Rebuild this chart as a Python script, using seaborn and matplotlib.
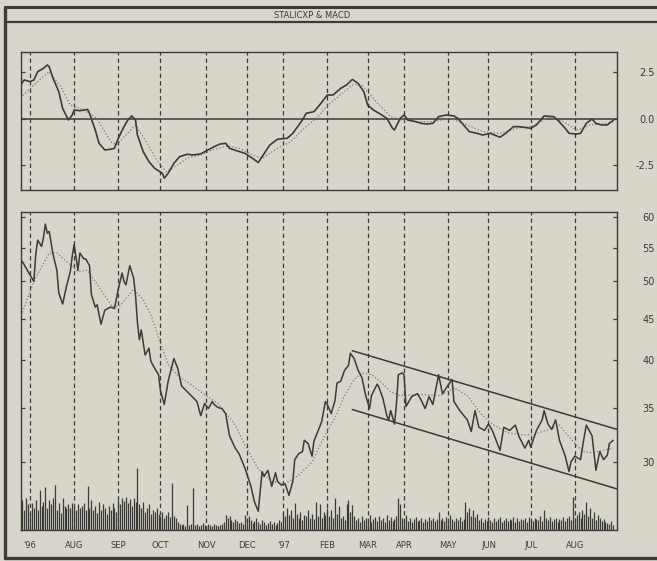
import matplotlib
matplotlib.use("Agg")
import matplotlib.pyplot as plt
from matplotlib.lines import Line2D
from matplotlib.ticker import FixedLocator, FixedFormatter, NullLocator
import seaborn as sns

# x axis = trading-session index (session 0 = Mon 24 Jun 1996)
month_ticks = [5, 28, 51, 73, 97, 118, 137, 160, 181, 200, 223, 244, 266, 289]
month_labels = ["'96", "AUG", "SEP", "OCT", "NOV", "DEC", "'97", "FEB",
                "MAR", "APR", "MAY", "JUN", "JUL", "AUG"]
title = "STALICXP & MACD"

price_session = [1, 4, 7, 8, 9, 11, 12, 13, 14, 15, 17, 19, 20, 22, 24, 26, 27, 28, 30, 31,
                 33, 34, 36, 37, 39, 40, 42, 44, 47, 49, 51, 53, 54, 55, 57, 59, 60, 61, 62, 63,
                 65, 67, 68, 70, 72, 73, 75, 77, 80, 82, 84, 86, 89, 92, 94, 96, 98, 100, 101, 103,
                 105, 107, 109, 112, 114, 117, 120, 122, 124, 125, 126, 127, 129, 131, 133, 134, 136, 138, 140, 142,
                 143, 145, 147, 148, 150, 152, 153, 155, 157, 159, 160, 162, 164, 165, 167, 169, 171, 172, 174, 176,
                 178, 180, 182, 183, 186, 187, 189, 191, 192, 193, 195, 196, 197, 199, 200, 201, 204, 207, 209, 211,
                 213, 215, 218, 220, 222, 225, 226, 229, 233, 235, 237, 239, 242, 244, 246, 250, 252, 255, 258, 260,
                 263, 265, 266, 269, 272, 273, 275, 277, 279, 281, 284, 286, 287, 289, 292, 293, 295, 298, 300, 302,
                 304, 306, 307, 309]
price_close = [52.9, 51.4, 50.0, 54.0, 56.2, 55.2, 56.6, 58.8, 57.3, 57.6, 54.0, 51.6, 48.4, 46.9, 49.3, 51.4, 53.7, 55.5, 51.6, 54.2,
               53.3, 53.3, 52.3, 48.2, 46.5, 46.8, 44.3, 46.1, 46.5, 46.3, 48.9, 51.2, 50.0, 49.5, 52.3, 50.5, 48.1, 44.5, 42.4, 43.6,
               40.6, 41.4, 39.9, 39.1, 38.4, 36.7, 35.3, 37.7, 40.2, 39.1, 37.2, 36.8, 36.2, 35.6, 34.2, 35.4, 34.9, 35.6, 35.3, 35.0,
               34.9, 34.4, 32.3, 31.2, 30.7, 29.5, 28.1, 26.8, 26.1, 27.6, 29.2, 28.8, 29.3, 28.0, 29.1, 28.4, 28.1, 28.2, 27.3, 28.4,
               30.2, 30.7, 30.9, 31.9, 31.6, 30.5, 31.8, 32.7, 33.6, 35.6, 35.3, 34.4, 35.7, 37.5, 37.7, 38.9, 39.4, 40.8, 40.2, 38.9,
               38.1, 36.2, 34.9, 36.2, 37.4, 37.0, 35.9, 34.2, 33.8, 34.7, 33.4, 35.3, 38.4, 38.6, 38.4, 35.1, 36.1, 36.4, 35.7, 34.9,
               36.1, 35.3, 38.4, 36.4, 37.0, 37.9, 35.6, 34.7, 33.8, 32.7, 34.7, 33.1, 32.8, 33.4, 32.8, 31.0, 33.1, 32.8, 33.3, 32.2,
               31.2, 31.9, 31.3, 32.8, 33.8, 34.7, 33.4, 32.9, 33.8, 31.9, 30.5, 29.2, 30.0, 30.5, 30.2, 31.3, 33.3, 32.3, 29.3, 30.9,
               30.2, 30.6, 31.6, 31.9]

ma_session = [1, 7, 15, 19, 30, 35, 41, 48, 52, 59, 64, 68, 73, 77, 83, 88, 96, 103, 109, 112,
              117, 124, 131, 138, 145, 152, 158, 164, 169, 174, 178, 183, 188, 193, 198, 206, 211, 219, 226, 233,
              240, 246, 254, 260, 267, 274, 281, 286, 293, 298, 309]
ma_value = [45.8, 50.0, 54.2, 54.2, 51.4, 51.6, 49.2, 46.5, 46.7, 48.9, 47.5, 45.5, 42.0, 39.5, 38.1, 37.5, 36.3, 35.4, 34.0, 33.3,
            31.5, 29.4, 28.4, 28.2, 28.9, 30.0, 32.1, 34.0, 36.2, 37.9, 38.6, 38.4, 37.6, 36.6, 36.2, 36.3, 36.3, 36.2, 37.0, 36.2,
            34.4, 33.4, 32.6, 32.4, 32.4, 32.8, 33.3, 32.2, 30.9, 30.8, 31.2]

channel_session = [173, 311]
channel_upper = [41.1, 32.9]
channel_lower = [34.8, 27.8]

macd_session = [0, 2, 5, 7, 9, 12, 14, 15, 17, 20, 22, 25, 27, 28, 31, 35, 36, 39, 41, 44,
                47, 49, 51, 54, 56, 58, 60, 61, 64, 67, 70, 74, 75, 77, 80, 83, 87, 90, 94, 97,
                101, 104, 107, 109, 113, 117, 121, 124, 126, 130, 134, 139, 142, 147, 149, 153, 156, 160, 163, 167,
                170, 173, 176, 179, 181, 184, 187, 191, 194, 195, 198, 200, 202, 206, 209, 212, 215, 218, 222, 226,
                228, 231, 234, 238, 241, 245, 247, 250, 253, 257, 260, 266, 269, 273, 278, 280, 284, 286, 290, 292,
                295, 298, 300, 303, 306, 308, 309]
macd_value = [1.82, 2.09, 2.0, 2.09, 2.54, 2.72, 2.9, 2.8, 2.18, 1.46, 0.56, -0.07, 0.2, 0.47, 0.43, 0.5, 0.29, -0.61, -1.33, -1.69,
              -1.65, -1.6, -1.06, -0.43, -0.07, 0.15, -0.07, -0.88, -1.78, -2.32, -2.68, -2.95, -3.21, -2.95, -2.41, -2.05, -1.92, -1.96, -1.9, -1.73,
              -1.51, -1.37, -1.33, -1.6, -1.74, -1.87, -2.14, -2.37, -2.05, -1.42, -1.11, -1.06, -0.79, -0.07, 0.29, 0.38, 0.74, 1.28, 1.28, 1.64,
              1.82, 2.12, 1.91, 1.46, 0.74, 0.47, 0.29, 0.02, -0.52, -0.61, 0.02, 0.2, -0.07, -0.16, -0.25, -0.29, -0.25, 0.11, 0.2, 0.15,
              0.02, -0.34, -0.7, -0.79, -0.88, -0.79, -0.88, -1.0, -0.79, -0.43, -0.43, -0.52, -0.34, 0.15, 0.11, -0.07, -0.52, -0.79, -0.83, -0.79,
              -0.25, -0.02, -0.25, -0.34, -0.34, -0.16, -0.1]

signal_session = [0, 7, 15, 21, 26, 33, 40, 47, 50, 56, 60, 66, 71, 76, 82, 87, 94, 100, 108, 114,
                  121, 126, 134, 141, 146, 156, 160, 173, 178, 186, 193, 199, 207, 215, 224, 233, 241, 250, 259, 267,
                  276, 283, 290, 297, 306, 309]
signal_value = [1.12, 1.82, 2.54, 1.73, 0.74, 0.47, 0.0, -1.24, -1.42, -0.77, -0.34, -1.31, -2.23, -2.86, -2.5, -2.12, -1.96, -1.69, -1.47, -1.6,
                -1.96, -2.14, -1.6, -1.24, -0.7, 0.2, 0.7, 1.82, 1.82, 0.85, 0.11, -0.07, -0.16, -0.16, 0.02, -0.34, -0.7, -0.79, -0.52, -0.39,
                0.11, -0.16, -0.61, -0.34, -0.25, -0.16]

# daily volume (arbitrary units), sessions 0..309
volume = [24, 30, 20, 32, 26, 18, 27, 22, 30, 20, 40, 24, 28, 43, 22, 30, 26, 32, 45, 20,
          27, 17, 32, 24, 22, 26, 22, 27, 24, 20, 26, 22, 24, 27, 20, 44, 22, 30, 20, 24,
          17, 28, 20, 26, 22, 16, 24, 20, 27, 22, 18, 30, 26, 32, 29, 33, 27, 31, 24, 32,
          28, 62, 26, 22, 28, 18, 22, 26, 16, 20, 18, 22, 16, 14, 18, 12, 15, 18, 13, 47,
          14, 12, 8, 6, 5, 6, 4, 25, 5, 6, 42, 5, 6, 4, 5, 7, 5, 4, 6, 5,
          4, 6, 5, 4, 5, 6, 8, 15, 12, 14, 10, 8, 11, 9, 7, 8, 6, 15, 12, 14,
          10, 7, 9, 12, 8, 6, 10, 8, 5, 7, 9, 6, 8, 5, 7, 10, 8, 18, 14, 22,
          15, 20, 12, 27, 16, 12, 18, 10, 15, 14, 20, 12, 16, 11, 28, 14, 26, 12, 18, 15,
          22, 14, 20, 12, 32, 16, 24, 12, 14, 10, 26, 30, 18, 25, 14, 10, 12, 8, 14, 10,
          12, 9, 15, 8, 11, 13, 9, 14, 10, 12, 8, 15, 10, 13, 9, 11, 14, 32, 26, 12,
          10, 15, 9, 12, 8, 11, 13, 9, 10, 12, 8, 11, 9, 13, 10, 12, 9, 11, 18, 10,
          12, 9, 13, 10, 15, 11, 9, 12, 10, 13, 9, 11, 28, 18, 22, 14, 20, 13, 16, 10,
          12, 8, 11, 9, 13, 10, 8, 12, 9, 11, 13, 8, 10, 12, 9, 11, 10, 13, 8, 12,
          9, 11, 10, 12, 8, 13, 10, 9, 12, 11, 10, 14, 9, 20, 12, 10, 13, 9, 11, 12,
          8, 11, 10, 13, 9, 12, 14, 10, 33, 12, 15, 18, 12, 20, 16, 28, 14, 22, 12, 18,
          10, 15, 12, 9, 11, 8, 7, 6, 9, 5]

price_ticks = [30, 35, 40, 45, 50, 55, 60]
macd_ticks = [-2.5, 0.0, 2.5]
macd_tick_labels = ["-2.5", "0.0", "2.5"]

BG = "#d8d6cb"
INK = "#3b3b37"
DOT = "#7a7a74"

sns.set_theme(style="white")
plt.rcParams["font.family"] = ["DejaVu Sans"]

W, H = 657, 561
fig = plt.figure(figsize=(W / 100, H / 100), dpi=100, facecolor=BG)


def rect(x0, y0, x1, y1):
    return [x0 / W, 1 - y1 / H, (x1 - x0) / W, (y1 - y0) / H]


ax1 = fig.add_axes(rect(21, 52, 617, 190))
ax2 = fig.add_axes(rect(21, 212, 617, 530))

# outer frame
for (xa, ya, xb, yb, lw) in [(5, 7, 657, 7, 2.2), (5, 22, 657, 22, 1.6),
                             (5, 558, 657, 558, 2.4), (5, 7, 5, 558, 2.4)]:
    fig.add_artist(Line2D([xa / W, xb / W], [1 - ya / H, 1 - yb / H],
                          color=INK, lw=lw, transform=fig.transFigure))
fig.text(312 / W, 1 - 15 / H, title, ha="center", va="center", fontsize=6, color=INK)

dash = (0, (3.5, 2.5))
for ax in (ax1, ax2):
    ax.set_facecolor(BG)
    for s in ax.spines.values():
        s.set_color(INK)
        s.set_linewidth(1.0)
    for t in month_ticks:
        ax.axvline(t, color=INK, lw=0.9, ls=dash, zorder=1)
    ax.set_xlim(0.3, 311)

# MACD panel
ax1.axhline(0, color=INK, lw=1.1, zorder=2)
sns.lineplot(x=signal_session, y=signal_value, ax=ax1, color=DOT, lw=0.9, ls=":", zorder=3)
sns.lineplot(x=macd_session, y=macd_value, ax=ax1, color=INK, lw=1.2, zorder=4)
ax1.set_ylim(-3.85, 3.6)
ax1.yaxis.set_major_locator(FixedLocator(macd_ticks))
ax1.yaxis.set_major_formatter(FixedFormatter(macd_tick_labels))

# Price panel
ax2.set_yscale("log")
sns.lineplot(x=ma_session, y=ma_value, ax=ax2, color=DOT, lw=0.9, ls=":", zorder=3)
sns.lineplot(x=price_session, y=price_close, ax=ax2, color=INK, lw=1.1, zorder=4)
sns.lineplot(x=channel_session, y=channel_upper, ax=ax2, color=INK, lw=1.1, zorder=4)
sns.lineplot(x=channel_session, y=channel_lower, ax=ax2, color=INK, lw=1.1, zorder=4)
ax2.set_ylim(24.75, 60.85)
ax2.yaxis.set_major_locator(FixedLocator(price_ticks))
ax2.yaxis.set_major_formatter(FixedFormatter([str(v) for v in price_ticks]))
ax2.yaxis.set_minor_locator(NullLocator())

# Volume on a twin axis
axv = ax2.twinx()
axv.vlines(range(len(volume)), 0, volume, color=INK, lw=0.9)
axv.set_ylim(0, 318)
axv.set_yticks([])
axv.set_xlim(0.3, 311)
for s in axv.spines.values():
    s.set_visible(False)

for ax in (ax1, ax2):
    ax.set_xlabel("")
    ax.set_ylabel("")
    ax.tick_params(axis="y", which="major", direction="in", length=3, width=0.9,
                   left=True, right=True, labelleft=False, labelright=True,
                   pad=27, labelsize=7, colors=INK)
    for tk in ax.yaxis.get_major_ticks():
        tk.label2.set_horizontalalignment("right")
    ax.set_xticks(month_ticks)

ax1.tick_params(axis="x", length=0, labelbottom=False)
ax2.set_xticklabels(month_labels)
ax2.tick_params(axis="x", length=0, pad=8, labelsize=6, colors=INK)

fig.savefig("out.png", dpi=100, facecolor=BG)
